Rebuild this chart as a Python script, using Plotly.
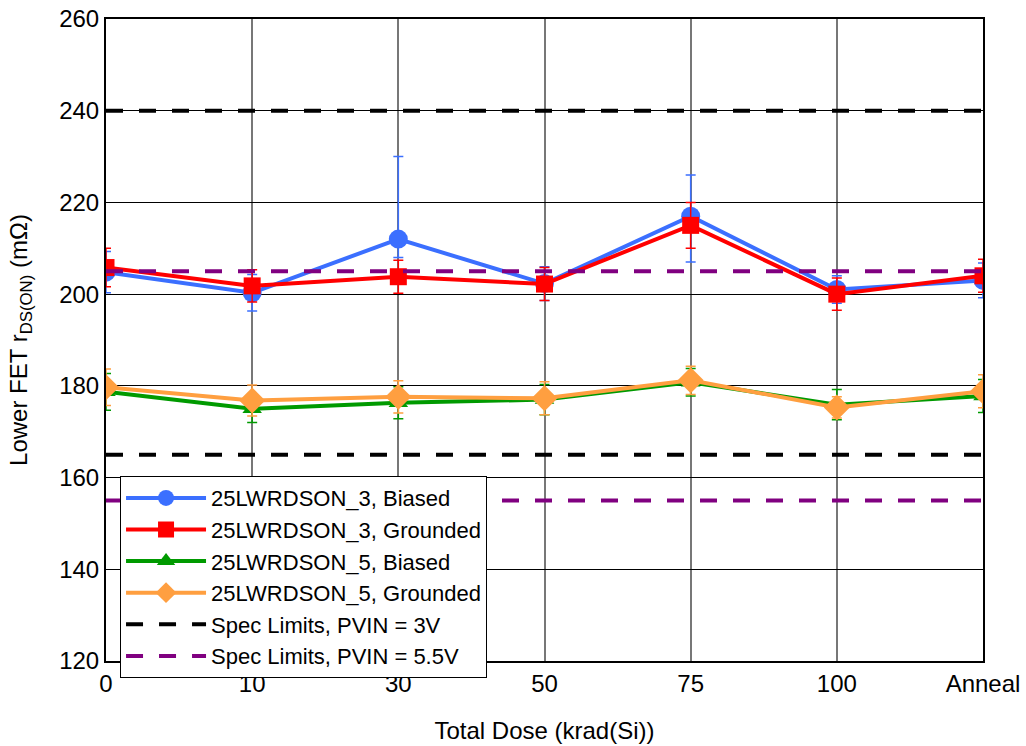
import plotly.graph_objects as go

categories = ["0", "10", "30", "50", "75", "100", "Anneal"]

b3_biased = [204.8, 200.3, 212.0, 202.3, 217.0, 201.0, 203.0]
b3_biased_err_plus = [4.5, 4.0, 18.0, 3.7, 9.0, 3.0, 3.8]
b3_biased_err_minus = [4.5, 4.0, 4.0, 3.7, 10.0, 3.0, 3.8]

b3_grounded = [205.8, 201.8, 203.8, 202.2, 215.0, 200.0, 204.0]
b3_grounded_err = [4.2, 3.5, 3.6, 3.6, 5.0, 3.5, 3.6]

b5_biased = [178.7, 175.0, 176.3, 177.0, 180.8, 175.9, 177.8]
b5_biased_err = [4.0, 3.0, 3.5, 3.3, 3.0, 3.3, 3.6]

b5_grounded = [179.7, 176.8, 177.6, 177.3, 181.2, 175.3, 178.8]
b5_grounded_err = [4.0, 3.4, 3.5, 3.6, 3.1, 2.3, 3.6]

spec_3v = [240, 165]
spec_5v5 = [205, 155]

y_ticks = [120, 140, 160, 180, 200, 220, 240, 260]

FONT = "Liberation Sans, Arial, sans-serif"
FS = 24
LFS = 22

fig = go.Figure()

series = [
    ("25LWRDSON_3, Biased", b3_biased, b3_biased_err_plus, b3_biased_err_minus, "#3B6FFF", "circle", 19),
    ("25LWRDSON_3, Grounded", b3_grounded, b3_grounded_err, b3_grounded_err, "#FF0000", "square", 17),
    ("25LWRDSON_5, Biased", b5_biased, b5_biased_err, b5_biased_err, "#009A00", "triangle-up", 17),
    ("25LWRDSON_5, Grounded", b5_grounded, b5_grounded_err, b5_grounded_err, "#FF9F40", "diamond", 20),
]
for name, vals, ep, em, col, sym, sz in series:
    fig.add_trace(go.Scatter(
        x=categories, y=vals, name=name, mode="lines+markers",
        line=dict(color=col, width=4),
        marker=dict(symbol=sym, size=sz, color=col),
        error_y=dict(type="data", array=ep, arrayminus=em, symmetric=False,
                     visible=True, color=col, thickness=1.5, width=5),
    ))

def spec_trace(name, levels, col):
    xs, ys = [], []
    for i, lv in enumerate(levels):
        if i:
            xs.append(None); ys.append(None)
        xs += categories
        ys += [lv] * len(categories)
    return go.Scatter(x=xs, y=ys, name=name, mode="lines",
                      line=dict(color=col, width=4, dash="17px,16px"),
                      connectgaps=False)

fig.add_trace(spec_trace("Spec Limits, PVIN = 3V", spec_3v, "#000000"))
fig.add_trace(spec_trace("Spec Limits, PVIN = 5.5V", spec_5v5, "#800080"))

fig.update_layout(
    width=1026, height=746,
    margin=dict(l=106, r=43, t=19, b=85, autoexpand=False),
    paper_bgcolor="white", plot_bgcolor="white",
    font=dict(family=FONT, size=FS, color="black"),
    showlegend=True,
    legend=dict(
        x=0.016, y=0.288, xanchor="left", yanchor="top",
        bgcolor="white", bordercolor="black", borderwidth=1,
        font=dict(family=FONT, size=LFS, color="black"),
        itemwidth=80, tracegroupgap=0,
        entrywidth=330, entrywidthmode="pixels",
    ),
    xaxis=dict(
        type="category", categoryorder="array", categoryarray=categories,
        range=[0, 6], showgrid=True, gridcolor="#777777", gridwidth=1.5,
        showline=True, linecolor="black", linewidth=2, mirror=True,
        ticks="", tickfont=dict(family=FONT, size=FS), automargin=False,
        title=dict(text="Total Dose (krad(Si))", font=dict(family=FONT, size=FS), standoff=26),
        zeroline=False,
    ),
    yaxis=dict(
        range=[120, 260], tickvals=y_ticks, showgrid=True, gridcolor="black", gridwidth=1,
        showline=True, linecolor="black", linewidth=2, mirror=True,
        ticks="", tickfont=dict(family=FONT, size=FS), automargin=False,
        title=dict(text="Lower FET r<sub>DS(ON)</sub> (mΩ)", font=dict(family=FONT, size=FS), standoff=25),
        zeroline=False,
    ),
)

fig.write_html("out.html", config={"displayModeBar": False},
               post_script="document.body.style.margin='0px';document.body.style.overflow='hidden';")
